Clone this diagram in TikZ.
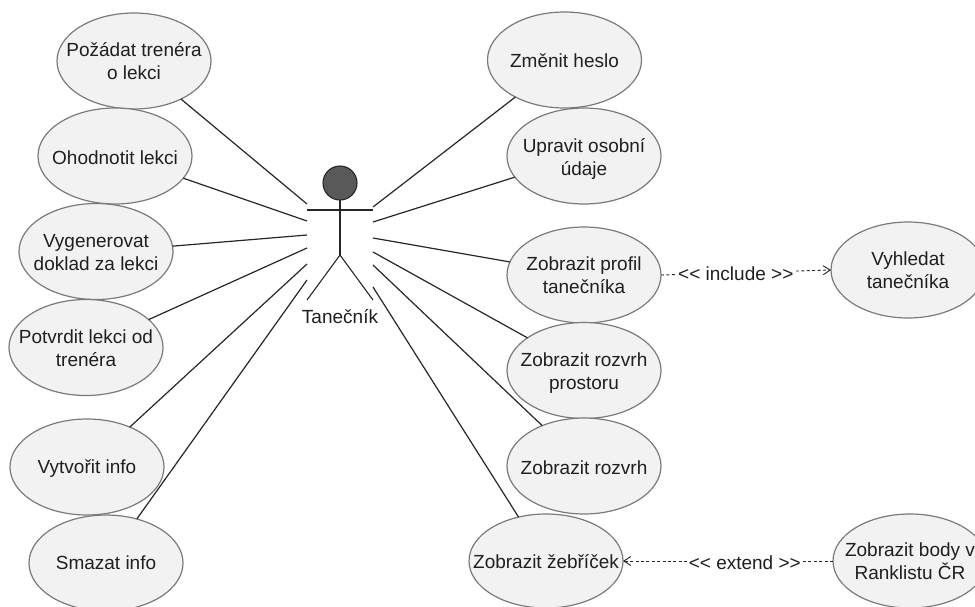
\documentclass[tikz,border=0pt]{standalone}
\usepackage{fontspec}
\setmainfont{Liberation Sans}
\usetikzlibrary{shapes.geometric,arrows.meta}
\tikzset{
  x=1pt,y=-1pt,
  uc/.style={ellipse,draw=black!52,fill=black!5,line width=1.2pt,minimum width=154pt,minimum height=96pt,inner sep=0pt,outer sep=0pt},
  txt/.style={font=\fontsize{19}{23}\selectfont,align=center,text=black!88,inner sep=0pt,outer sep=0pt},
  link/.style={draw=black!85,line width=1.2pt},
  stick/.style={draw=black!85,line width=1.1pt},
  dep/.style={draw=black!85,line width=0.9pt,dash pattern=on 3pt off 2.4pt,-{Straight Barb[length=7pt,width=9pt,line width=0.9pt]}},
  deplabel/.style={txt,fill=white,inner xsep=1pt,inner ysep=1pt}
}
\begin{document}
\begin{tikzpicture}
\useasboundingbox (0,0) rectangle (975,606);
% use cases
\node[uc,label={[txt]center:{Požádat trenéra\\o lekci}}] (u1) at (134,61) {};
\node[uc,label={[txt,yshift=-2pt]center:{Ohodnotit lekci}}] (u2) at (115,156) {};
\node[uc,label={[txt,yshift=-1.5pt]center:{Vygenerovat\\doklad za lekci}}] (u3) at (96,251.5) {};
\node[uc,label={[txt,yshift=-0.5pt]center:{Potvrdit lekci od\\trenéra}}] (u4) at (86,347.5) {};
\node[uc,label={[txt,yshift=-2pt]center:{Vytvořit info}}] (u5) at (87,467) {};
\node[uc,label={[txt]center:{Smazat info}}] (u6) at (106,563) {};
\node[uc,label={[txt,yshift=-1pt]center:{Změnit heslo}}] (r1) at (564.5,60) {};
\node[uc,label={[txt,yshift=-3pt]center:{Upravit osobní\\údaje}}] (r2) at (584,156) {};
\node[uc,label={[txt]center:{Zobrazit profil\\tanečníka}}] (r3) at (584,275) {};
\node[uc,label={[txt,yshift=-3pt]center:{Zobrazit rozvrh\\prostoru}}] (r4) at (584,370.5) {};
\node[uc,label={[txt,yshift=-2pt]center:{Zobrazit rozvrh}}] (r5) at (584,466) {};
\node[uc,minimum height=94pt,label={[txt,yshift=-1pt]center:{Zobrazit žebříček}}] (r6) at (546,561) {};
\node[uc,label={[txt]center:{Vyhledat\\tanečníka}}] (v) at (908,270) {};
\node[uc,minimum height=94pt,label={[txt]center:{Zobrazit body v\\Ranklistu ČR}}] (b) at (910,561) {};
% actor
\node[circle,draw=black!85,fill=black!65,line width=1.1pt,minimum size=34pt,inner sep=0pt,outer sep=0pt] (head) at (340,183) {};
\coordinate (hip) at (340,255);
\coordinate (armL) at (307,210);
\coordinate (armR) at (373,210);
\coordinate (footL) at (307,300);
\coordinate (footR) at (373,300);
\draw[stick] (armL) -- (armR);
\draw[stick] (head.south) -- (hip);
\draw[stick] (footL) -- (hip) -- (footR);
\node[txt] (actor) at (340,317) {Tanečník};
% connector ends at the actor
\coordinate (a1) at (307,204);
\coordinate (a2) at (307,221);
\coordinate (a3) at (307,235);
\coordinate (a4) at (307,248);
\coordinate (a5) at (307,264);
\coordinate (a6) at (307,280);
\coordinate (c1) at (373,207);
\coordinate (c2) at (373,222);
\coordinate (c3) at (373,238);
\coordinate (c4) at (373,252);
\coordinate (c5) at (373,265);
\coordinate (c6) at (373,287);
\draw[link] (a1) -- (u1.-39.6);
\draw[link] (a2) -- (u2.-18.7);
\draw[link] (a3) -- (u3.4);
\draw[link] (a4) -- (u4.24);
\draw[link] (a5) -- (u5.43);
\draw[link] (a6) -- (u6.55);
\draw[link] (c1) -- (r1.217.5);
\draw[link] (c2) -- (r2.197);
\draw[link] (c3) -- (r3.170.7);
\draw[link] (c4) -- (r4.150.3);
\draw[link] (c5) -- (r5.136);
\draw[link] (c6) -- (r6.122.5);
% dependencies
\draw[dep] (r3.east) -- node[deplabel,pos=0.44,yshift=-1pt] (inc) {<{}< include >{}>} (v.west);
\draw[dep] (b.west) -- node[deplabel,pos=0.42,yshift=-2pt] (ext) {<{}< extend >{}>} (r6.east);
\end{tikzpicture}
\end{document}
